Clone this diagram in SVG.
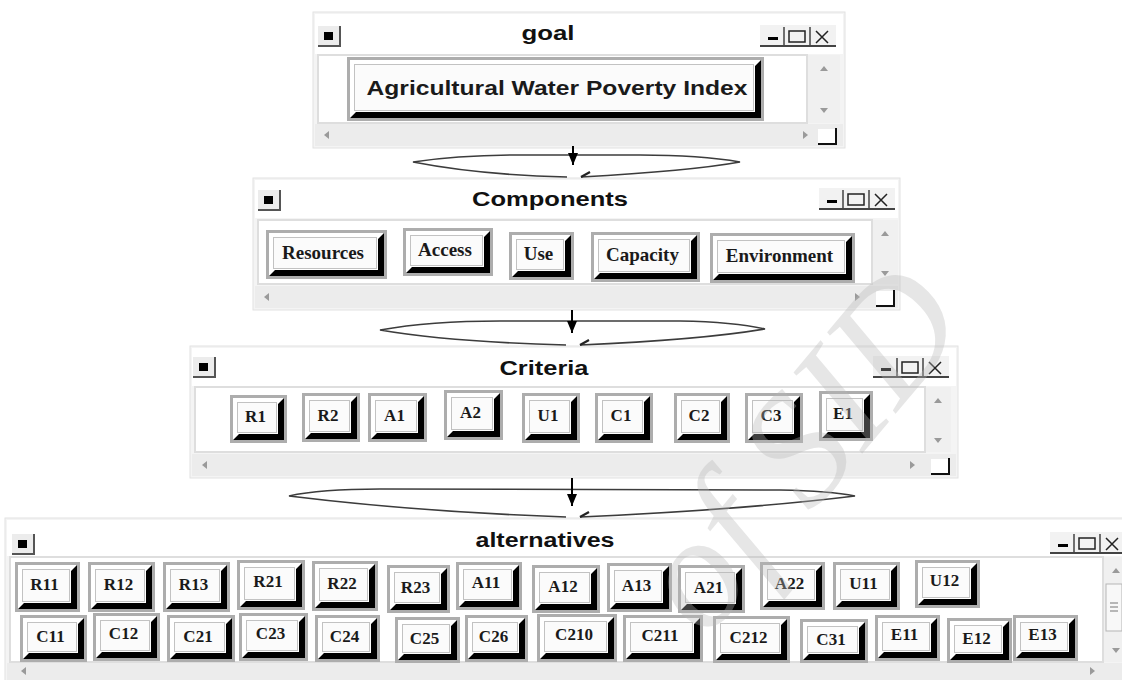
<svg xmlns="http://www.w3.org/2000/svg" xmlns:xlink="http://www.w3.org/1999/xlink" width="1122" height="680" viewBox="0 0 1122 680">
<style>
.panel{fill:#f4f4f4;stroke:#e2e2e2;stroke-width:1}
.tbar{fill:#fff}
.content{fill:#fff;stroke:#dedede;stroke-width:2}
.vsb{fill:#f0f0f0}
.hsb{fill:#ececec}
.arw{fill:#9a9a9a}
.grip{fill:#fff}
.gripl{fill:none;stroke:#111;stroke-width:2}
.title{font-family:"Liberation Sans",Arial,sans-serif;font-weight:bold;font-size:20px;fill:#111;text-anchor:middle}
.rim{fill:#adadad}
.hl{fill:#fff}
.sh{fill:#000}
.face{fill:#fbfbfb;stroke:#c2c2c2;stroke-width:1}
.lbl{font-family:"Liberation Serif","Times New Roman",serif;font-weight:bold;font-size:17px;fill:#1a1a1a;text-anchor:middle}
.lblc{font-family:"Liberation Serif","Times New Roman",serif;font-weight:bold;font-size:19px;fill:#1a1a1a;text-anchor:middle}
.lblg{font-family:"Liberation Sans",Arial,sans-serif;font-weight:bold;font-size:21px;fill:#1a1a1a;text-anchor:middle}
.lens{fill:none;stroke:#3c3c3c;stroke-width:1.6}
.arr{stroke:#000;stroke-width:2;fill:none}
.tick{stroke:#222;stroke-width:2.2}
.wm{font-family:"Liberation Serif","Times New Roman",serif;font-style:italic;font-size:160px;fill:#b8b8b8;opacity:0.35}
</style>
<defs>
<marker id="ah" markerUnits="userSpaceOnUse" markerWidth="10" markerHeight="12" refX="5" refY="12" orient="0">
<path d="M0,0 L10,0 L5,12 Z" fill="#000"/>
</marker>
<g id="sysicon">
<rect x="0" y="0" width="22" height="20" fill="#ececec"/>
<path d="M22,0 V20 H0" fill="none" stroke="#555" stroke-width="2"/>
<rect x="6" y="6" width="9" height="8" fill="#000"/>
</g>
<g id="ctl">
<rect x="0" y="0" width="76" height="21" fill="#f2f2f2"/>
<path d="M0,21 H76" stroke="#444" stroke-width="2"/>
<rect x="8" y="12" width="10" height="3" fill="#000"/>
<path d="M24,2 V20 M50,2 V20" stroke="#444" stroke-width="1.5"/>
<rect x="29" y="6" width="16" height="11" fill="none" stroke="#222" stroke-width="1.5"/>
<path d="M56,6 L68,18 M68,6 L56,18" stroke="#222" stroke-width="1.5"/>
</g>
</defs>

<g id="panel-goal">
<rect class="panel" x="313" y="12" width="532" height="136"/>
<rect class="tbar" x="315" y="14" width="528" height="40"/>
<use xlink:href="#sysicon" href="#sysicon" x="318" y="26"/>
<text class="title" x="548" y="40" textLength="53" lengthAdjust="spacingAndGlyphs">goal</text>
<use xlink:href="#ctl" href="#ctl" x="760" y="25"/>
<rect class="content" x="318" y="55" width="489" height="68"/>
<rect class="vsb" x="808" y="55" width="32" height="68"/>
<path class="arw" d="M820,71 L824,66 L828,71 Z M820,108 L824,113 L828,108 Z"/>
<rect class="hsb" x="315" y="124" width="528" height="22"/>
<path class="arw" d="M329,131 L324,135 L329,139 Z M803,131 L808,135 L803,139 Z"/>
<rect class="grip" x="818" y="129" width="17" height="15"/>
<path class="gripl" d="M818,144 H836 V128"/>
</g>

<g id="node-goal" transform="translate(347,57)">
<rect class="rim" width="417" height="64"/><rect class="hl" x="3" y="3" width="411" height="58"/><path class="sh" d="M414 3V61H3L9 55H408V9Z"/><rect class="face" x="7.5" y="7.5" width="399" height="46"/>
<text class="lblg" x="210" y="38" textLength="381" lengthAdjust="spacingAndGlyphs">Agricultural Water Poverty Index</text>
</g>

<g id="panel-components">
<rect class="panel" x="253" y="178" width="647" height="132"/>
<rect class="tbar" x="255" y="180" width="643" height="38"/>
<use xlink:href="#sysicon" href="#sysicon" x="258" y="190"/>
<text class="title" x="550" y="206" textLength="156" lengthAdjust="spacingAndGlyphs">Components</text>
<use xlink:href="#ctl" href="#ctl" x="819" y="188"/>
<rect class="content" x="258" y="220" width="614" height="64"/>
<rect class="vsb" x="873" y="220" width="25" height="64"/>
<path class="arw" d="M881,236 L885,231 L889,236 Z M881,271 L885,276 L889,271 Z"/>
<rect class="hsb" x="255" y="286" width="643" height="22"/>
<path class="arw" d="M269,293 L264,297 L269,301 Z M855,293 L860,297 L855,301 Z"/>
<rect class="grip" x="876" y="291" width="17" height="15"/>
<path class="gripl" d="M876,306 H894 V290"/>
</g>

<g id="node-resources" transform="translate(266,230)"><rect class="rim" width="121" height="49"/><rect class="hl" x="3" y="3" width="115" height="43"/><path class="sh" d="M118 3V46H3L9 40H112V9Z"/><rect class="face" x="7.5" y="7.5" width="103" height="31"/><text class="lblc" x="57" y="29">Resources</text></g>
<g id="node-access" transform="translate(403,228)"><rect class="rim" width="90" height="48"/><rect class="hl" x="3" y="3" width="84" height="42"/><path class="sh" d="M87 3V45H3L9 39H81V9Z"/><rect class="face" x="7.5" y="7.5" width="72" height="30"/><text class="lblc" x="42" y="28">Access</text></g>
<g id="node-use" transform="translate(509,232)"><rect class="rim" width="65" height="48"/><rect class="hl" x="3" y="3" width="59" height="42"/><path class="sh" d="M62 3V45H3L9 39H56V9Z"/><rect class="face" x="7.5" y="7.5" width="47" height="30"/><text class="lblc" x="29.5" y="28">Use</text></g>
<g id="node-capacity" transform="translate(591,232)"><rect class="rim" width="109" height="50"/><rect class="hl" x="3" y="3" width="103" height="44"/><path class="sh" d="M106 3V47H3L9 41H100V9Z"/><rect class="face" x="7.5" y="7.5" width="91" height="32"/><text class="lblc" x="51.5" y="29">Capacity</text></g>
<g id="node-environment" transform="translate(710,233)"><rect class="rim" width="145" height="50"/><rect class="hl" x="3" y="3" width="139" height="44"/><path class="sh" d="M142 3V47H3L9 41H136V9Z"/><rect class="face" x="7.5" y="7.5" width="127" height="32"/><text class="lblc" x="69.5" y="29">Environment</text></g>

<g id="panel-criteria">
<rect class="panel" x="190" y="346" width="768" height="132"/>
<rect class="tbar" x="192" y="348" width="764" height="38"/>
<use xlink:href="#sysicon" href="#sysicon" x="193" y="357"/>
<text class="title" x="544" y="375" textLength="89" lengthAdjust="spacingAndGlyphs">Criteria</text>
<use xlink:href="#ctl" href="#ctl" x="873" y="356"/>
<rect class="content" x="195" y="387" width="730" height="65"/>
<rect class="vsb" x="926" y="387" width="25" height="65"/>
<path class="arw" d="M934,403 L938,398 L942,403 Z M934,438 L938,443 L942,438 Z"/>
<rect class="hsb" x="192" y="454" width="764" height="22"/>
<path class="arw" d="M207,461 L202,465 L207,469 Z M910,461 L915,465 L910,469 Z"/>
<rect class="grip" x="931" y="459" width="17" height="15"/>
<path class="gripl" d="M931,474 H949 V458"/>
</g>

<g id="node-R1" transform="translate(230,395)"><rect class="rim" width="57" height="48"/><rect class="hl" x="3" y="3" width="51" height="42"/><path class="sh" d="M54 3V45H3L9 39H48V9Z"/><rect class="face" x="7.5" y="7.5" width="39" height="30"/><text class="lbl" x="25.5" y="27">R1</text></g>
<g id="node-R2" transform="translate(302,393)"><rect class="rim" width="58" height="49"/><rect class="hl" x="3" y="3" width="52" height="43"/><path class="sh" d="M55 3V46H3L9 40H49V9Z"/><rect class="face" x="7.5" y="7.5" width="40" height="31"/><text class="lbl" x="26" y="27.5">R2</text></g>
<g id="node-A1" transform="translate(368,393)"><rect class="rim" width="59" height="49"/><rect class="hl" x="3" y="3" width="53" height="43"/><path class="sh" d="M56 3V46H3L9 40H50V9Z"/><rect class="face" x="7.5" y="7.5" width="41" height="31"/><text class="lbl" x="26.5" y="27.5">A1</text></g>
<g id="node-A2" transform="translate(444,390)"><rect class="rim" width="59" height="50"/><rect class="hl" x="3" y="3" width="53" height="44"/><path class="sh" d="M56 3V47H3L9 41H50V9Z"/><rect class="face" x="7.5" y="7.5" width="41" height="32"/><text class="lbl" x="26.5" y="28">A2</text></g>
<g id="node-U1" transform="translate(522,393)"><rect class="rim" width="58" height="50"/><rect class="hl" x="3" y="3" width="52" height="44"/><path class="sh" d="M55 3V47H3L9 41H49V9Z"/><rect class="face" x="7.5" y="7.5" width="40" height="32"/><text class="lbl" x="26" y="28">U1</text></g>
<g id="node-C1" transform="translate(595,393)"><rect class="rim" width="58" height="50"/><rect class="hl" x="3" y="3" width="52" height="44"/><path class="sh" d="M55 3V47H3L9 41H49V9Z"/><rect class="face" x="7.5" y="7.5" width="40" height="32"/><text class="lbl" x="26" y="28">C1</text></g>
<g id="node-C2" transform="translate(674,393)"><rect class="rim" width="56" height="50"/><rect class="hl" x="3" y="3" width="50" height="44"/><path class="sh" d="M53 3V47H3L9 41H47V9Z"/><rect class="face" x="7.5" y="7.5" width="38" height="32"/><text class="lbl" x="25" y="28">C2</text></g>
<g id="node-C3" transform="translate(745,393)"><rect class="rim" width="58" height="50"/><rect class="hl" x="3" y="3" width="52" height="44"/><path class="sh" d="M55 3V47H3L9 41H49V9Z"/><rect class="face" x="7.5" y="7.5" width="40" height="32"/><text class="lbl" x="26" y="28">C3</text></g>
<g id="node-E1" transform="translate(819,391)"><rect class="rim" width="54" height="50"/><rect class="hl" x="3" y="3" width="48" height="44"/><path class="sh" d="M51 3V47H3L9 41H45V9Z"/><rect class="face" x="7.5" y="7.5" width="36" height="32"/><text class="lbl" x="24" y="28">E1</text></g>

<g id="panel-alternatives">
<rect class="panel" x="5" y="518" width="1125" height="170"/>
<rect class="tbar" x="7" y="520" width="1120" height="36"/>
<use xlink:href="#sysicon" href="#sysicon" x="12" y="534"/>
<text class="title" x="545" y="547" textLength="139" lengthAdjust="spacingAndGlyphs">alternatives</text>
<use xlink:href="#ctl" href="#ctl" x="1050" y="532"/>
<rect class="content" x="10" y="557" width="1093" height="105"/>
<rect class="vsb" x="1104" y="557" width="20" height="105"/>
<path class="arw" d="M1112,573 L1116,568 L1120,573 Z M1112,648 L1116,653 L1120,648 Z"/>
<rect x="1106" y="584" width="16" height="47" fill="#f8f8f8" stroke="#b5b5b5" stroke-width="1"/>
<path d="M1110,603 H1118 M1110,607 H1118 M1110,611 H1118" stroke="#777" stroke-width="1"/>
<rect class="hsb" x="7" y="663" width="1120" height="20"/>
<path class="arw" d="M26,667 L21,671 L26,675 Z M1090,667 L1095,671 L1090,675 Z"/>
</g>

<g id="node-R11" transform="translate(15,562)"><rect class="rim" width="65" height="50"/><rect class="hl" x="3" y="3" width="59" height="44"/><path class="sh" d="M62 3V47H3L9 41H56V9Z"/><rect class="face" x="7.5" y="7.5" width="47" height="32"/><text class="lbl" x="29.5" y="28">R11</text></g>
<g id="node-R12" transform="translate(88,562)"><rect class="rim" width="67" height="50"/><rect class="hl" x="3" y="3" width="61" height="44"/><path class="sh" d="M64 3V47H3L9 41H58V9Z"/><rect class="face" x="7.5" y="7.5" width="49" height="32"/><text class="lbl" x="30.5" y="28">R12</text></g>
<g id="node-R13" transform="translate(163,562)"><rect class="rim" width="67" height="50"/><rect class="hl" x="3" y="3" width="61" height="44"/><path class="sh" d="M64 3V47H3L9 41H58V9Z"/><rect class="face" x="7.5" y="7.5" width="49" height="32"/><text class="lbl" x="30.5" y="28">R13</text></g>
<g id="node-R21" transform="translate(237,560)"><rect class="rim" width="68" height="50"/><rect class="hl" x="3" y="3" width="62" height="44"/><path class="sh" d="M65 3V47H3L9 41H59V9Z"/><rect class="face" x="7.5" y="7.5" width="50" height="32"/><text class="lbl" x="31" y="27">R21</text></g>
<g id="node-R22" transform="translate(312,561)"><rect class="rim" width="66" height="50"/><rect class="hl" x="3" y="3" width="60" height="44"/><path class="sh" d="M63 3V47H3L9 41H57V9Z"/><rect class="face" x="7.5" y="7.5" width="48" height="32"/><text class="lbl" x="30" y="28">R22</text></g>
<g id="node-R23" transform="translate(387,565)"><rect class="rim" width="63" height="48"/><rect class="hl" x="3" y="3" width="57" height="42"/><path class="sh" d="M60 3V45H3L9 39H54V9Z"/><rect class="face" x="7.5" y="7.5" width="45" height="30"/><text class="lbl" x="28.5" y="28">R23</text></g>
<g id="node-A11" transform="translate(456,562)"><rect class="rim" width="66" height="48"/><rect class="hl" x="3" y="3" width="60" height="42"/><path class="sh" d="M63 3V45H3L9 39H57V9Z"/><rect class="face" x="7.5" y="7.5" width="48" height="30"/><text class="lbl" x="30" y="26">A11</text></g>
<g id="node-A12" transform="translate(532,565)"><rect class="rim" width="68" height="48"/><rect class="hl" x="3" y="3" width="62" height="42"/><path class="sh" d="M65 3V45H3L9 39H59V9Z"/><rect class="face" x="7.5" y="7.5" width="50" height="30"/><text class="lbl" x="31" y="27">A12</text></g>
<g id="node-A13" transform="translate(607,563)"><rect class="rim" width="65" height="49"/><rect class="hl" x="3" y="3" width="59" height="43"/><path class="sh" d="M62 3V46H3L9 40H56V9Z"/><rect class="face" x="7.5" y="7.5" width="47" height="31"/><text class="lbl" x="29.5" y="27.5">A13</text></g>
<g id="node-A21" transform="translate(678,565)"><rect class="rim" width="67" height="48"/><rect class="hl" x="3" y="3" width="61" height="42"/><path class="sh" d="M64 3V45H3L9 39H58V9Z"/><rect class="face" x="7.5" y="7.5" width="49" height="30"/><text class="lbl" x="30.5" y="28">A21</text></g>
<g id="node-A22" transform="translate(760,562)"><rect class="rim" width="65" height="48"/><rect class="hl" x="3" y="3" width="59" height="42"/><path class="sh" d="M62 3V45H3L9 39H56V9Z"/><rect class="face" x="7.5" y="7.5" width="47" height="30"/><text class="lbl" x="29.5" y="27">A22</text></g>
<g id="node-U11" transform="translate(833,562)"><rect class="rim" width="67" height="48"/><rect class="hl" x="3" y="3" width="61" height="42"/><path class="sh" d="M64 3V45H3L9 39H58V9Z"/><rect class="face" x="7.5" y="7.5" width="49" height="30"/><text class="lbl" x="30.5" y="27">U11</text></g>
<g id="node-U12" transform="translate(915,560)"><rect class="rim" width="65" height="48"/><rect class="hl" x="3" y="3" width="59" height="42"/><path class="sh" d="M62 3V45H3L9 39H56V9Z"/><rect class="face" x="7.5" y="7.5" width="47" height="30"/><text class="lbl" x="29.5" y="26">U12</text></g>

<g id="node-C11" transform="translate(20,615)"><rect class="rim" width="67" height="47"/><rect class="hl" x="3" y="3" width="61" height="41"/><path class="sh" d="M64 3V44H3L9 38H58V9Z"/><rect class="face" x="7.5" y="7.5" width="49" height="29"/><text class="lbl" x="30.5" y="26.5">C11</text></g>
<g id="node-C12" transform="translate(93,613)"><rect class="rim" width="67" height="48"/><rect class="hl" x="3" y="3" width="61" height="42"/><path class="sh" d="M64 3V45H3L9 39H58V9Z"/><rect class="face" x="7.5" y="7.5" width="49" height="30"/><text class="lbl" x="30.5" y="26">C12</text></g>
<g id="node-C21" transform="translate(167,615)"><rect class="rim" width="68" height="47"/><rect class="hl" x="3" y="3" width="62" height="41"/><path class="sh" d="M65 3V44H3L9 38H59V9Z"/><rect class="face" x="7.5" y="7.5" width="50" height="29"/><text class="lbl" x="31" y="27">C21</text></g>
<g id="node-C23" transform="translate(239,613)"><rect class="rim" width="69" height="48"/><rect class="hl" x="3" y="3" width="63" height="42"/><path class="sh" d="M66 3V45H3L9 39H60V9Z"/><rect class="face" x="7.5" y="7.5" width="51" height="30"/><text class="lbl" x="31.5" y="26">C23</text></g>
<g id="node-C24" transform="translate(315,615)"><rect class="rim" width="65" height="47"/><rect class="hl" x="3" y="3" width="59" height="41"/><path class="sh" d="M62 3V44H3L9 38H56V9Z"/><rect class="face" x="7.5" y="7.5" width="47" height="29"/><text class="lbl" x="29.5" y="26.5">C24</text></g>
<g id="node-C25" transform="translate(395,617)"><rect class="rim" width="65" height="46"/><rect class="hl" x="3" y="3" width="59" height="40"/><path class="sh" d="M62 3V43H3L9 37H56V9Z"/><rect class="face" x="7.5" y="7.5" width="47" height="28"/><text class="lbl" x="29.5" y="27">C25</text></g>
<g id="node-C26" transform="translate(465,615)"><rect class="rim" width="63" height="47"/><rect class="hl" x="3" y="3" width="57" height="41"/><path class="sh" d="M60 3V44H3L9 38H54V9Z"/><rect class="face" x="7.5" y="7.5" width="45" height="29"/><text class="lbl" x="28.5" y="27">C26</text></g>
<g id="node-C210" transform="translate(537,614)"><rect class="rim" width="80" height="48"/><rect class="hl" x="3" y="3" width="74" height="42"/><path class="sh" d="M77 3V45H3L9 39H71V9Z"/><rect class="face" x="7.5" y="7.5" width="62" height="30"/><text class="lbl" x="37" y="26">C210</text></g>
<g id="node-C211" transform="translate(623,615)"><rect class="rim" width="80" height="47"/><rect class="hl" x="3" y="3" width="74" height="41"/><path class="sh" d="M77 3V44H3L9 38H71V9Z"/><rect class="face" x="7.5" y="7.5" width="62" height="29"/><text class="lbl" x="37" y="26">C211</text></g>
<g id="node-C212" transform="translate(713,616)"><rect class="rim" width="77" height="47"/><rect class="hl" x="3" y="3" width="71" height="41"/><path class="sh" d="M74 3V44H3L9 38H68V9Z"/><rect class="face" x="7.5" y="7.5" width="59" height="29"/><text class="lbl" x="35.5" y="26.5">C212</text></g>
<g id="node-C31" transform="translate(800,619)"><rect class="rim" width="68" height="44"/><rect class="hl" x="3" y="3" width="62" height="38"/><path class="sh" d="M65 3V41H3L9 35H59V9Z"/><rect class="face" x="7.5" y="7.5" width="50" height="26"/><text class="lbl" x="31" y="26">C31</text></g>
<g id="node-E11" transform="translate(875,615)"><rect class="rim" width="65" height="46"/><rect class="hl" x="3" y="3" width="59" height="40"/><path class="sh" d="M62 3V43H3L9 37H56V9Z"/><rect class="face" x="7.5" y="7.5" width="47" height="28"/><text class="lbl" x="29.5" y="25">E11</text></g>
<g id="node-E12" transform="translate(947,618)"><rect class="rim" width="65" height="45"/><rect class="hl" x="3" y="3" width="59" height="39"/><path class="sh" d="M62 3V42H3L9 36H56V9Z"/><rect class="face" x="7.5" y="7.5" width="47" height="27"/><text class="lbl" x="29.5" y="26">E12</text></g>
<g id="node-E13" transform="translate(1013,615)"><rect class="rim" width="65" height="46"/><rect class="hl" x="3" y="3" width="59" height="40"/><path class="sh" d="M62 3V43H3L9 37H56V9Z"/><rect class="face" x="7.5" y="7.5" width="47" height="28"/><text class="lbl" x="29.5" y="25">E13</text></g>

<g id="connectors">
<path class="lens" d="M567,177 Q480,175 413,162 Q460,155 520,155 L640,155 Q700,155 740,162 Q690,171 581,177"/>
<line class="arr" x1="573" y1="146" x2="573" y2="165" marker-end="url(#ah)"/>
<line class="tick" x1="581" y1="177" x2="590" y2="172"/>
<path class="lens" d="M566,345 Q450,342 380,330 Q430,321 500,321 L680,321 Q735,322 765,329 Q700,340 580,345"/>
<line class="arr" x1="572" y1="310" x2="572" y2="333" marker-end="url(#ah)"/>
<line class="tick" x1="580" y1="345" x2="589" y2="340"/>
<path class="lens" d="M566,517 Q420,512 289,496 Q320,489 380,489 L780,490 Q830,491 855,496 Q740,510 580,517"/>
<line class="arr" x1="572" y1="478" x2="572" y2="506" marker-end="url(#ah)"/>
<line class="tick" x1="580" y1="517" x2="589" y2="512"/>
</g>

<text class="wm" x="800" y="500" text-anchor="middle" transform="rotate(-50 800 450)">of SID</text>
</svg>
